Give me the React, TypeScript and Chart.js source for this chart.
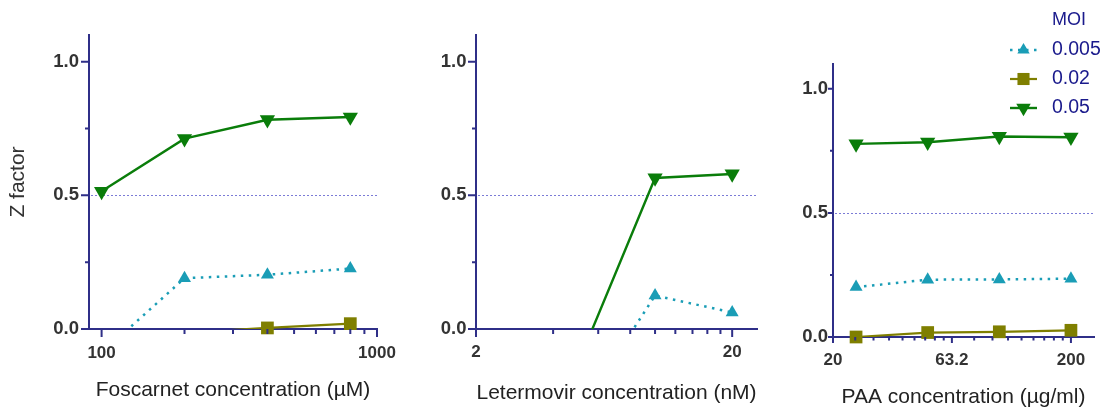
import React, { useEffect, useRef } from 'react';
import { Chart, registerables } from 'chart.js';

Chart.register(...registerables);

// ---------------- data ----------------
const moiLabels = ['0.005', '0.02', '0.05'];
const legendTitle = 'MOI';

const foscarnetConc = [100, 200, 400, 800];
const foscarnetMoi0005 = [-0.09, 0.19, 0.203, 0.226];
const foscarnetMoi002 = [null, -0.014, 0.004, 0.02];
const foscarnetMoi005 = [0.515, 0.712, 0.783, 0.793];

const letermovirConc = [5, 10, 20];
const letermovirMoi0005 = [-0.32, 0.125, 0.062];
const letermovirMoi002 = [null, null, null];
const letermovirMoi005 = [-0.13, 0.565, 0.58];

const paaConc = [25, 50, 100, 200];
const paaMoi0005 = [0.201, 0.231, 0.232, 0.235];
const paaMoi002 = [0.0, 0.018, 0.021, 0.027];
const paaMoi005 = [0.778, 0.785, 0.808, 0.805];

const yMajorTicks = [0, 0.5, 1.0];
const yMinorTicks = [0.25, 0.75];
const yTickLabels = ['0.0', '0.5', '1.0'];
const refLineValue = 0.5;

const foscarnetMajorTicks = [100, 1000];
const foscarnetTickLabels = ['100', '1000'];
const foscarnetMinorTicks = [200, 300, 400, 500, 600, 700, 800, 900];

const letermovirMajorTicks = [2, 20];
const letermovirTickLabels = ['2', '20'];
const letermovirMinorTicks = [4, 6, 8, 10, 12, 14, 16, 18];

const paaMajorTicks = [20, 63.2, 200];
const paaTickLabels = ['20', '63.2', '200'];
const paaMinorTicks = [24.8, 29.6, 34.4, 39.2, 44, 48.8, 53.6, 58.4, 78.4, 93.6, 108.8, 124, 139.2, 154.4, 169.6, 184.8];

// ---------------- styles ----------------
const FONT = '"Liberation Sans", Arial, Helvetica, sans-serif';
const AXIS_COLOR = '#2f2f88';
const LABEL_COLOR = '#333333';
const TITLE_COLOR = '#222222';
const REF_COLOR = '#7b7bd6';
const LEGEND_COLOR = '#1a1a8c';

const seriesStyles = [
  { color: '#1a9db6', pointStyle: 'triangle', rotation: 0, radius: 7.5, dash: [2.5, 5.5], width: 2.5 },
  { color: '#7f7f00', pointStyle: 'rect', rotation: 0, radius: 9, dash: [], width: 2.2 },
  { color: '#0a7d0a', pointStyle: 'triangle', rotation: 180, radius: 8.8, dash: [], width: 2.4 },
];

const panels = [
  {
    conc: foscarnetConc,
    series: [foscarnetMoi0005, foscarnetMoi002, foscarnetMoi005],
    xMin: 90, xMax: 1000,
    majors: foscarnetMajorTicks, minors: foscarnetMinorTicks, tickLabels: foscarnetTickLabels,
    title: 'Foscarnet concentration (µM)', yTitle: 'Z factor',
    left: 0, w: 410, yAxisWidth: 89, padRight: 33, padTop: 35, xAxisHeight: 78,
    xTickPad: 14, xTitlePad: 4.4, yTickPad: 10,
    xMajorLen: 8, xMinorLen: 5, yMajorLen: 8, yMinorLen: 4, legend: false,
  },
  {
    conc: letermovirConc,
    series: [letermovirMoi0005, letermovirMoi002, letermovirMoi005],
    xMin: 2, xMax: 25,
    majors: letermovirMajorTicks, minors: letermovirMinorTicks, tickLabels: letermovirTickLabels,
    title: 'Letermovir concentration (nM)', yTitle: '',
    left: 400, w: 390, yAxisWidth: 76, padRight: 33, padTop: 35, xAxisHeight: 78,
    xTickPad: 13, xTitlePad: 1.4, yTickPad: 9.5,
    xMajorLen: 8, xMinorLen: 5, yMajorLen: 8, yMinorLen: 4, legend: false,
  },
  {
    conc: paaConc,
    series: [paaMoi0005, paaMoi002, paaMoi005],
    xMin: 20, xMax: 250,
    majors: paaMajorTicks, minors: paaMinorTicks, tickLabels: paaTickLabels,
    title: 'PAA concentration (µg/ml)', yTitle: '',
    left: 760, w: 345, yAxisWidth: 73, padRight: 11, padTop: 64, xAxisHeight: 70,
    xTickPad: 13, xTitlePad: -2.6, yTickPad: 5,
    xMajorLen: 6, xMinorLen: 3.5, yMajorLen: 5, yMinorLen: 3, legend: true,
  },
];

function drawMarker(ctx: CanvasRenderingContext2D, st: any, x: number, y: number, r: number) {
  ctx.beginPath();
  if (st.pointStyle === 'rect') {
    const s = Math.SQRT1_2 * r;
    ctx.rect(x - s, y - s, 2 * s, 2 * s);
  } else {
    let rad = (st.rotation * Math.PI) / 180;
    for (let k = 0; k < 3; k++) {
      const px = x + Math.sin(rad) * r;
      const py = y - Math.cos(rad) * r;
      if (k === 0) ctx.moveTo(px, py); else ctx.lineTo(px, py);
      rad += (2 * Math.PI) / 3;
    }
    ctx.closePath();
  }
  ctx.fillStyle = st.color;
  ctx.fill();
}

function makeDecorPlugin(p: any) {
  return {
    id: 'axisDecor',
    beforeDatasetsDraw(chart: any) {
      const { ctx, chartArea } = chart;
      const y = Math.round(chart.scales.y.getPixelForValue(refLineValue)) + 0.5;
      ctx.save();
      ctx.strokeStyle = REF_COLOR;
      ctx.lineWidth = 1;
      ctx.setLineDash([2, 2]);
      ctx.beginPath();
      ctx.moveTo(Math.round(chartArea.left) + 2, y);
      ctx.lineTo(chartArea.right, y);
      ctx.stroke();
      ctx.restore();
    },
    afterDraw(chart: any) {
      const { ctx, chartArea } = chart;
      const xs = chart.scales.x;
      const ys = chart.scales.y;
      ctx.save();
      ctx.strokeStyle = AXIS_COLOR;
      ctx.lineWidth = 2;
      ctx.setLineDash([]);
      ctx.beginPath();
      p.majors.forEach((v: number) => {
        const x = xs.getPixelForValue(v);
        ctx.moveTo(x, chartArea.bottom);
        ctx.lineTo(x, chartArea.bottom + p.xMajorLen);
      });
      p.minors.forEach((v: number) => {
        const x = xs.getPixelForValue(v);
        ctx.moveTo(x, chartArea.bottom);
        ctx.lineTo(x, chartArea.bottom + p.xMinorLen);
      });
      yMajorTicks.forEach((v) => {
        const y = ys.getPixelForValue(v);
        ctx.moveTo(chartArea.left, y);
        ctx.lineTo(chartArea.left - p.yMajorLen, y);
      });
      yMinorTicks.forEach((v) => {
        const y = ys.getPixelForValue(v);
        ctx.moveTo(chartArea.left, y);
        ctx.lineTo(chartArea.left - p.yMinorLen, y);
      });
      ctx.stroke();
      ctx.restore();

      if (p.legend) {
        const textX = 292;
        const lineX0 = 250;
        const lineX1 = 277;
        const titleY = 20;
        const rowY = [50, 79, 108];
        ctx.save();
        ctx.textAlign = 'left';
        ctx.textBaseline = 'middle';
        ctx.fillStyle = LEGEND_COLOR;
        ctx.font = `18px ${FONT}`;
        ctx.fillText(legendTitle, textX, titleY);
        moiLabels.forEach((lab, i) => {
          const st = seriesStyles[i];
          const y = rowY[i];
          ctx.strokeStyle = st.color;
          ctx.lineWidth = st.width;
          ctx.setLineDash(st.dash);
          ctx.beginPath();
          ctx.moveTo(lineX0, y);
          ctx.lineTo(lineX1, y);
          ctx.stroke();
          ctx.setLineDash([]);
          drawMarker(ctx, st, (lineX0 + lineX1) / 2, y, st.radius * 0.95);
          ctx.fillStyle = LEGEND_COLOR;
          ctx.font = `19.5px ${FONT}`;
          ctx.fillText(lab, textX, y);
        });
        ctx.restore();
      }
    },
  };
}

function buildDatasets(conc: number[], series: (number | null)[][]) {
  const ds: any[] = [];
  series.forEach((vals, i) => {
    const st = seriesStyles[i];
    ds.push({
      label: moiLabels[i],
      data: conc.map((x, j) => ({ x, y: vals[j] })),
      borderColor: st.color,
      backgroundColor: st.color,
      borderWidth: st.width,
      borderDash: st.dash,
      pointRadius: 0,
      fill: false,
      tension: 0,
      spanGaps: false,
    });
  });
  series.forEach((vals, i) => {
    const st = seriesStyles[i];
    ds.push({
      label: moiLabels[i] + ' markers',
      data: conc
        .map((x, j) => ({ x, y: vals[j] }))
        .filter((pt) => pt.y !== null && (pt.y as number) >= 0),
      showLine: false,
      pointStyle: st.pointStyle,
      pointRotation: st.rotation,
      pointRadius: st.radius,
      pointBackgroundColor: st.color,
      pointBorderColor: st.color,
      pointBorderWidth: 0,
      clip: false,
    });
  });
  return ds;
}

function PanelChart({ p }: { p: any }) {
  const ref = useRef<HTMLCanvasElement>(null);
  useEffect(() => {
    const chart = new Chart(ref.current as HTMLCanvasElement, {
      type: 'line',
      data: { datasets: buildDatasets(p.conc, p.series) },
      options: {
        animation: false,
        responsive: false,
        events: [],
        layout: { padding: { left: 0, right: p.padRight, top: p.padTop, bottom: 0 } },
        plugins: { legend: { display: false }, tooltip: { enabled: false } },
        scales: {
          x: {
            type: 'logarithmic',
            position: 'bottom',
            min: p.xMin,
            max: p.xMax,
            afterBuildTicks: (s: any) => {
              s.ticks = p.majors.map((v: number) => ({ value: v }));
            },
            afterFit: (s: any) => {
              s.height = p.xAxisHeight;
            },
            grid: { display: false, drawTicks: false },
            border: { display: true, color: AXIS_COLOR, width: 2 },
            ticks: {
              autoSkip: false,
              maxRotation: 0,
              minRotation: 0,
              padding: p.xTickPad,
              color: LABEL_COLOR,
              font: { family: FONT, size: 17, weight: 'bold' },
              callback: (_v: any, i: number) => p.tickLabels[i],
            },
            title: {
              display: true,
              text: p.title,
              color: TITLE_COLOR,
              font: { family: FONT, size: 21 },
              padding: { top: 0, bottom: p.xTitlePad },
            },
          },
          y: {
            type: 'linear',
            min: 0,
            max: 1.1,
            afterBuildTicks: (s: any) => {
              s.ticks = yMajorTicks.map((v) => ({ value: v }));
            },
            afterFit: (s: any) => {
              s.width = p.yAxisWidth;
            },
            grid: { display: false, drawTicks: false },
            border: { display: true, color: AXIS_COLOR, width: 2 },
            ticks: {
              padding: p.yTickPad,
              color: LABEL_COLOR,
              font: { family: FONT, size: 18.5, weight: 'bold' },
              callback: (_v: any, i: number) => yTickLabels[i],
            },
            title: {
              display: !!p.yTitle,
              text: p.yTitle,
              color: LABEL_COLOR,
              font: { family: FONT, size: 21 },
              padding: { top: 5.4, bottom: 0 },
            },
          },
        },
      } as any,
      plugins: [makeDecorPlugin(p)],
    });
    return () => chart.destroy();
  }, [p]);
  return (
    <canvas
      ref={ref}
      width={p.w}
      height={407}
      style={{ position: 'absolute', left: p.left, top: 0, width: p.w, height: 407 }}
    />
  );
}

export default function App() {
  return (
    <div
      style={{
        position: 'absolute',
        left: 0,
        top: 0,
        width: 1105,
        height: 407,
        overflow: 'hidden',
        background: '#ffffff',
      }}
    >
      {panels.map((p, i) => (
        <PanelChart key={i} p={p} />
      ))}
    </div>
  );
}
